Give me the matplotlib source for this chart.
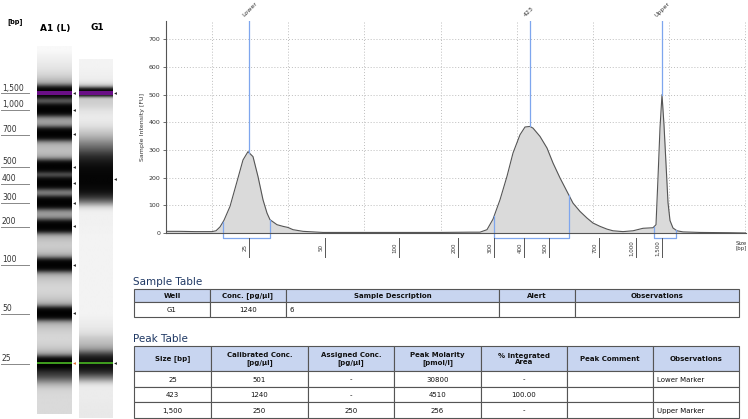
import numpy as np
import matplotlib
matplotlib.use('Agg')
import matplotlib.pyplot as plt
from matplotlib.patches import Rectangle
from matplotlib.transforms import offset_copy

plt.rcParams['font.family'] = ['DejaVu Sans']

# ladder sizes and where each one sits on the migration axis of the electropherogram
ladder_bp = [25, 50, 100, 200, 300, 400, 500, 700, 1000, 1500]
ladder_labels = ['25', '50', '100', '200', '300', '400', '500', '700', '1,000', '1,500']
ladder_pos = [249, 325, 399, 458, 494, 524, 549, 599, 636, 662]

# G1 trace (migration position, intensity FU)
trace_pos = [166, 180, 195, 205, 212, 216, 220, 224, 230, 237, 243, 248, 253, 258, 263,
             267, 270, 277, 283, 288, 293, 303, 323, 360, 400, 440, 470, 480, 487, 493,
             500, 507, 513, 520, 525, 530, 533, 540, 547, 553, 560, 567, 573, 580, 587,
             593, 600, 607, 613, 623, 633, 643, 653, 656, 658, 660, 662, 664, 666, 668,
             670, 673, 677, 683, 700, 730, 746]
trace_fu = [6, 6, 5, 5, 5, 8, 22, 46, 96, 186, 264, 294, 276, 204, 120,
            72, 48, 30, 24, 20, 12, 6, 2, 2, 2, 2, 3, 3, 12, 50,
            120, 205, 289, 355, 383, 385, 379, 349, 307, 253, 199, 150, 108, 78, 54,
            36, 24, 14, 8, 5, 8, 17, 19, 30, 200, 380, 500, 390, 250, 110,
            45, 18, 8, 4, 2, 1, 0]

# called peaks
peak_names = ['Lower', '423', 'Upper']
peak_pos = [249, 530, 662]
peak_windows = [(223, 270), (494, 569), (654, 676)]

# vertical grid of the migration axis
grid_pos = [212, 288, 364, 441, 517, 593, 669, 745]

# tables
sample_cols = ['Well', 'Conc. [pg/µl]', 'Sample Description', 'Alert', 'Observations']
sample_rows = [['G1', '1240', '6', '', '']]
peak_cols = ['Size [bp]', 'Calibrated Conc.\n[pg/µl]', 'Assigned Conc.\n[pg/µl]',
             'Peak Molarity\n[pmol/l]', '% Integrated\nArea', 'Peak Comment', 'Observations']
peak_rows = [['25', '501', '-', '30800', '-', '', 'Lower Marker'],
             ['423', '1240', '-', '4510', '100.00', '', ''],
             ['1,500', '250', '250', '256', '-', '', 'Upper Marker']]

W, H = 748, 419
BLUE = '#7ea6ee'
EDGE = '#555555'
HEAD = '#c8d5f0'
NAVY = '#1f3864'
PURPLE = '#6a0f86'
GREEN = '#3e9a1e'

# gel rows of the lower and upper marker, used to map migration -> gel
GEL_LOWER_Y, GEL_UPPER_Y = 363, 93


def px_rect(x0, y0, x1, y1):
    return [x0 / W, 1 - y1 / H, (x1 - x0) / W, (y1 - y0) / H]


def gel_y(pos):
    pos = np.asarray(pos, dtype=float)
    k = (GEL_UPPER_Y - GEL_LOWER_Y) / (peak_pos[2] - peak_pos[0])
    return GEL_LOWER_Y + (pos - peak_pos[0]) * k


def smooth(a, sigma):
    n = int(sigma * 4)
    k = np.exp(-0.5 * (np.arange(-n, n + 1) / sigma) ** 2)
    k /= k.sum()
    return np.convolve(np.pad(a, n, mode='edge'), k, mode='valid')


def draw_table(ax, xs, ys, header, rows, left_cols=()):
    for i, h in enumerate(header):
        ax.add_patch(Rectangle((xs[i], ys[0]), xs[i + 1] - xs[i], ys[1] - ys[0],
                               facecolor=HEAD, edgecolor=EDGE, lw=0.8))
        ax.text((xs[i] + xs[i + 1]) / 2, (ys[0] + ys[1]) / 2 + 0.5, h, ha='center', va='center',
                fontsize=5, fontweight='bold', linespacing=1.05, color='#111111')
    for r, row in enumerate(rows):
        for i, val in enumerate(row):
            ax.add_patch(Rectangle((xs[i], ys[r + 1]), xs[i + 1] - xs[i], ys[r + 2] - ys[r + 1],
                                   facecolor='white', edgecolor=EDGE, lw=0.8))
            if i in left_cols:
                ax.text(xs[i] + 4, (ys[r + 1] + ys[r + 2]) / 2 + 0.5, val, ha='left', va='center',
                        fontsize=5, color='#111111')
            else:
                ax.text((xs[i] + xs[i + 1]) / 2, (ys[r + 1] + ys[r + 2]) / 2 + 0.5, val,
                        ha='center', va='center', fontsize=5, color='#111111')


fig = plt.figure(figsize=(W / 100, H / 100), dpi=100)

# === background layer: gel + tables in pixel coordinates ===
bg = fig.add_axes([0, 0, 1, 1], zorder=0)
bg.set_xlim(0, W)
bg.set_ylim(H, 0)
bg.axis('off')

# ladder lane
yy = np.arange(47, 414, 0.5)
dens = np.full_like(yy, 0.16)
for by in gel_y(ladder_pos):
    dens += 4.0 * np.exp(-0.5 * ((yy - by) / 3.6) ** 2) + 0.35 * np.exp(-0.5 * ((yy - by) / 9) ** 2)
dens += 1.2 * np.exp(-0.5 * ((yy - GEL_LOWER_Y - 8) / 7) ** 2)
dens *= np.clip((yy - 45) / 35, 0.15, 1)
ladder_img = np.tile(np.exp(-dens)[:, None], (1, 8))
bg.imshow(ladder_img, cmap='gray', vmin=0, vmax=1, extent=(37, 72, 414, 47),
          origin='upper', aspect='auto', interpolation='bilinear')

# sample lane from the trace
ys = np.arange(60, 418, 0.5)
pos_s = peak_pos[0] + (ys - GEL_LOWER_Y) * (peak_pos[2] - peak_pos[0]) / (GEL_UPPER_Y - GEL_LOWER_Y)
fu_s = np.interp(pos_s, trace_pos, trace_fu)
dens_s = smooth(fu_s / 100.0, 3) + 0.03
sample_img = np.tile(np.exp(-dens_s)[:, None], (1, 8))
bg.imshow(sample_img, cmap='gray', vmin=0, vmax=1, extent=(79, 113, 418, 60),
          origin='upper', aspect='auto', interpolation='bilinear')

# marker overlays
for x0, x1 in [(37, 72), (79, 113)]:
    bg.add_patch(Rectangle((x0, GEL_UPPER_Y - 1.6), x1 - x0, 3.2, color=PURPLE, lw=0))
    bg.add_patch(Rectangle((x0, GEL_LOWER_Y - 1.4), x1 - x0, 2.8, color=GREEN, lw=0))

# band arrows
for i, gy in enumerate(gel_y(ladder_pos)):
    bg.plot(74, gy, marker='<', ms=2, color='#e06a2c' if i == 0 else '#222222', mew=0)
for gy in gel_y(peak_pos):
    bg.plot(115.5, gy, marker='<', ms=2, color='#222222', mew=0)

# ladder scale labels
for lab, gy in zip(ladder_labels, gel_y(ladder_pos)):
    bg.plot([1, 29], [gy + 0.5, gy + 0.5], color='#888888', lw=0.7)
    bg.text(2, gy - 0.5, lab, fontsize=5.5, color='#333333', va='bottom', ha='left')

bg.text(15, 22, '[bp]', fontsize=4.8, fontweight='bold', ha='center', va='center')
bg.text(55, 28, 'A1 (L)', fontsize=6.5, fontweight='bold', ha='center', va='center')
bg.text(97, 28, 'G1', fontsize=6.5, fontweight='bold', ha='center', va='center')

# tables
bg.text(133, 285, 'Sample Table', fontsize=7.5, color=NAVY, va='baseline', ha='left')
draw_table(bg, [134, 210, 286, 499, 575, 739], [289, 302, 317], sample_cols, sample_rows,
           left_cols=(2,))
bg.text(133, 342, 'Peak Table', fontsize=7.5, color=NAVY, va='baseline', ha='left')
draw_table(bg, [134, 211, 308, 394, 481, 567, 653, 739], [346, 371, 387, 402, 418],
           peak_cols, peak_rows, left_cols=(6,))

# === electropherogram ===
ax = fig.add_axes(px_rect(166, 21, 746, 233), zorder=1)
ax.patch.set_alpha(0)
ax.set_xlim(166, 746)
ax.set_ylim(0, 766)

ax.set_yticks(range(0, 701, 100))
ax.set_xticks(grid_pos)
ax.set_xticklabels([])
ax.tick_params(axis='x', length=0)
ax.tick_params(axis='y', length=2, width=0.6, labelsize=4.5, pad=2, colors='#555555',
               labelcolor='#333333')
ax.grid(True, linestyle=(0, (1, 2)), color='#bdbdbd', lw=0.7)
ax.set_axisbelow(True)
for s in ['top', 'right']:
    ax.spines[s].set_visible(False)
for s in ['left', 'bottom']:
    ax.spines[s].set_color(EDGE)
    ax.spines[s].set_linewidth(0.8)
ax.set_ylabel('Sample Intensity [FU]', fontsize=4.5, color='#333333', labelpad=3)

ax.fill_between(trace_pos, trace_fu, color='#dadada', lw=0)
ax.plot(trace_pos, trace_fu, color='#555555', lw=0.8)

# peak markers and integration windows
trans = ax.get_xaxis_transform()
for name, p in zip(peak_names, peak_pos):
    top = np.interp(p, trace_pos, trace_fu)
    ax.plot([p, p], [top, 766], color=BLUE, lw=0.9)
    ax.text(p, 1.0, name, transform=offset_copy(trans, fig=fig, x=-4, y=3, units='dots'),
            rotation=45, rotation_mode='anchor', ha='left', va='bottom', fontsize=4.5,
            color='#333333')
for a, b in peak_windows:
    ya = np.interp(a, trace_pos, trace_fu)
    yb = np.interp(b, trace_pos, trace_fu)
    ax.plot([a, a, b, b], [ya, -17, -17, yb], color=BLUE, lw=0.9, clip_on=False)

# size scale under the axis
for p, lab in zip(ladder_pos, ladder_labels):
    ax.plot([p, p], [-0.025, -0.115], transform=trans, color=EDGE, lw=0.7, clip_on=False)
    ax.text(p - 1.5, -0.07, lab, transform=trans, rotation=90, ha='right', va='center',
            fontsize=4, color='#333333', clip_on=False)
bg.text(741, 246, 'Size\n[bp]', fontsize=4, ha='center', va='center', color='#333333',
        linespacing=1.1)

fig.savefig('out.png', dpi=100)
